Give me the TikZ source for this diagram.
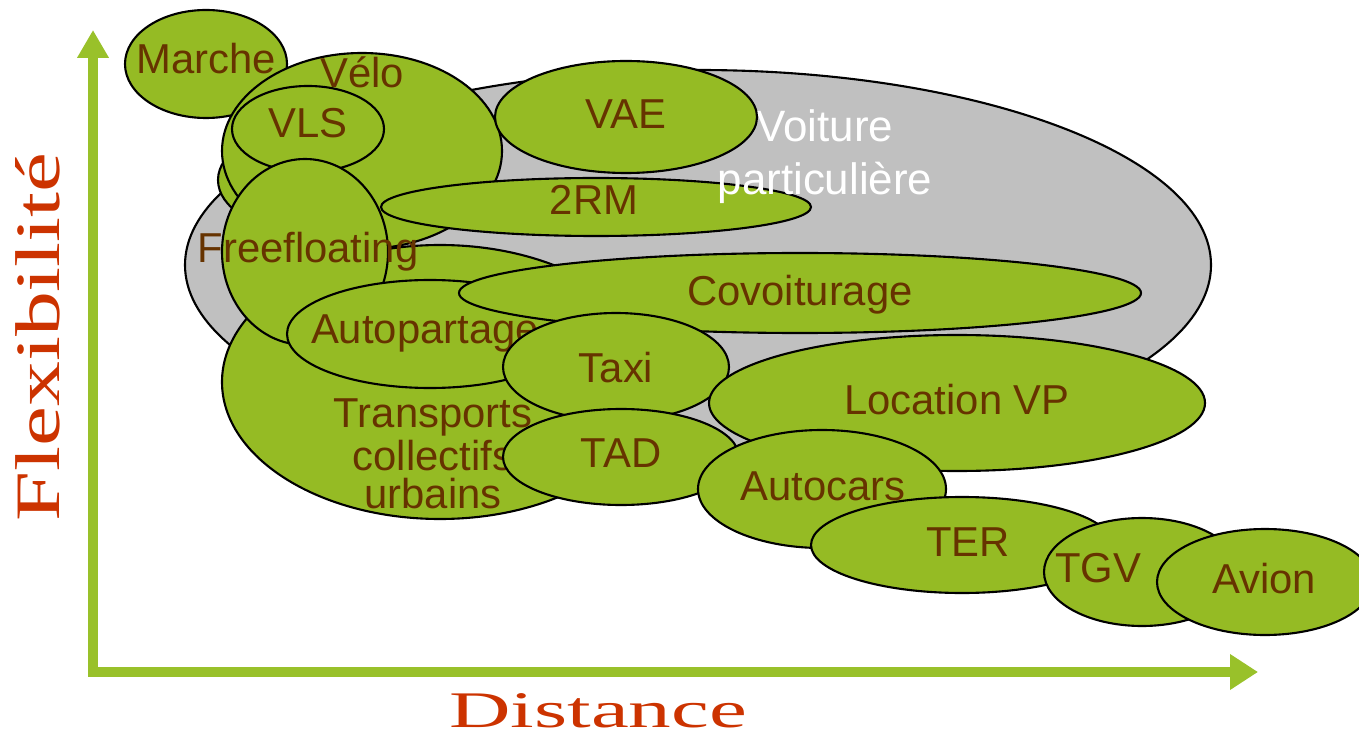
\documentclass[tikz,border=0pt]{standalone}
\usepackage{fontspec}
\usepackage{graphicx}
\setmainfont{Liberation Serif}
\setsansfont{Liberation Sans}
\usetikzlibrary{arrows.meta}
\definecolor{vertmode}{HTML}{95BB24}
\definecolor{vertaxe}{HTML}{99C12A}
\definecolor{grisvp}{HTML}{C0C0C0}
\definecolor{brunlabel}{HTML}{663300}
\definecolor{rougeaxe}{HTML}{CC3300}
\tikzset{
  bulle/.style = {draw=black, line width=0.6pt, fill=vertmode},
  bullevp/.style = {draw=black, line width=0.6pt, fill=grisvp},
  modelabel/.style = {inner sep=0pt, align=center, text=brunlabel,
                      font=\sffamily\fontsize{11.9}{10.9}\selectfont},
  axelabel/.style = {inner sep=0pt, text=rougeaxe},
}

\begin{document}
\begin{tikzpicture}[x=0.1mm,y=-0.1mm]
  \useasboundingbox (0,0) rectangle (1359,736);

  % Axes
  \coordinate (origine) at (93,672);
  \coordinate (ybout) at (93,30);
  \coordinate (xbout) at (1258,672);
  \draw[vertaxe, line width=1mm,
        {Triangle[width=3mm,length=2.8mm]}-{Triangle[width=3.4mm,length=2.8mm]}]
    (ybout) -- (origine) -- (xbout);
  \node[axelabel, rotate=90, font=\rmfamily\fontsize{18}{21}\selectfont]
    (flex) at (38,337) {\scalebox{1.42}[1]{Flexibilité}};
  \node[axelabel, anchor=base, font=\rmfamily\fontsize{14.6}{17}\selectfont]
    (dist) at (598,727) {\scalebox{1.66}[1]{Distance}};

  % Voiture particuliere (fond gris)
  \draw[bullevp] (698,265) ellipse (513 and 195);

  % Modes doux
  \draw[bulle] (206,64) ellipse (81 and 54);
  \node[modelabel, anchor=base] (marche) at (206,74) {Marche};
  \draw[bulle] (300,180) ellipse (82 and 50);
  \draw[bulle] (362,151) ellipse (140 and 98);
  \node[modelabel, anchor=base] (velo) at (362,88) {Vélo};
  \draw[bulle] (308,129) ellipse (76 and 43);
  \node[modelabel, anchor=base] (vls) at (308,138) {VLS};

  % Transports collectifs urbains
  \draw[bulle] (440,382) ellipse (218 and 137);
  \node[modelabel] (tcu) at (433,454) {Transports\\collectifs\\urbains};

  % 2RM, puis texte voiture, puis VAE
  \draw[bulle] (596,207) ellipse (215 and 29);
  \node[modelabel, anchor=base] (drm) at (594,215) {2RM};
  \node[modelabel, text=white, font=\sffamily\fontsize{12.5}{15.1}\selectfont]
    (vp) at (825,157) {Voiture\\particulière};
  \draw[bulle] (626,117) ellipse (131 and 56);
  \node[modelabel, anchor=base] (vae) at (626,129) {VAE};

  % Freefloating, autopartage, covoiturage
  \draw[bulle] (305,252) ellipse (83 and 93);
  \node[modelabel, anchor=base] (freefl) at (308,263) {Freefloating};
  \draw[bulle] (430,334) ellipse (143 and 54);
  \node[modelabel, anchor=base] (autopart) at (425,344) {Autopartage};
  \draw[bulle] (800,293) ellipse (341 and 40);
  \node[modelabel, anchor=base] (covoit) at (800,306) {Covoiturage};

  % Taxi, location, TAD
  \draw[bulle] (616,367) ellipse (113 and 54);
  \node[modelabel, anchor=base] (taxi) at (616,382) {Taxi};
  \draw[bulle] (957,403) ellipse (248 and 68);
  \node[modelabel, anchor=base] (locvp) at (957,414) {Location VP};
  \draw[bulle] (621,457) ellipse (118 and 48);
  \node[modelabel, anchor=base] (tad) at (621,467) {TAD};

  % Longue distance
  \draw[bulle] (822,489) ellipse (124 and 59);
  \node[modelabel, anchor=base] (autocars) at (823,500) {Autocars};
  \draw[bulle] (962,545) ellipse (151 and 48);
  \node[modelabel, anchor=base] (ter) at (968,556) {TER};
  \draw[bulle] (1142,572) ellipse (98 and 54);
  \node[modelabel, anchor=base] (tgv) at (1098,582) {TGV};
  \draw[bulle] (1265,582) ellipse (108 and 53);
  \node[modelabel, anchor=base] (avion) at (1264,593) {Avion};

\end{tikzpicture}
\end{document}
